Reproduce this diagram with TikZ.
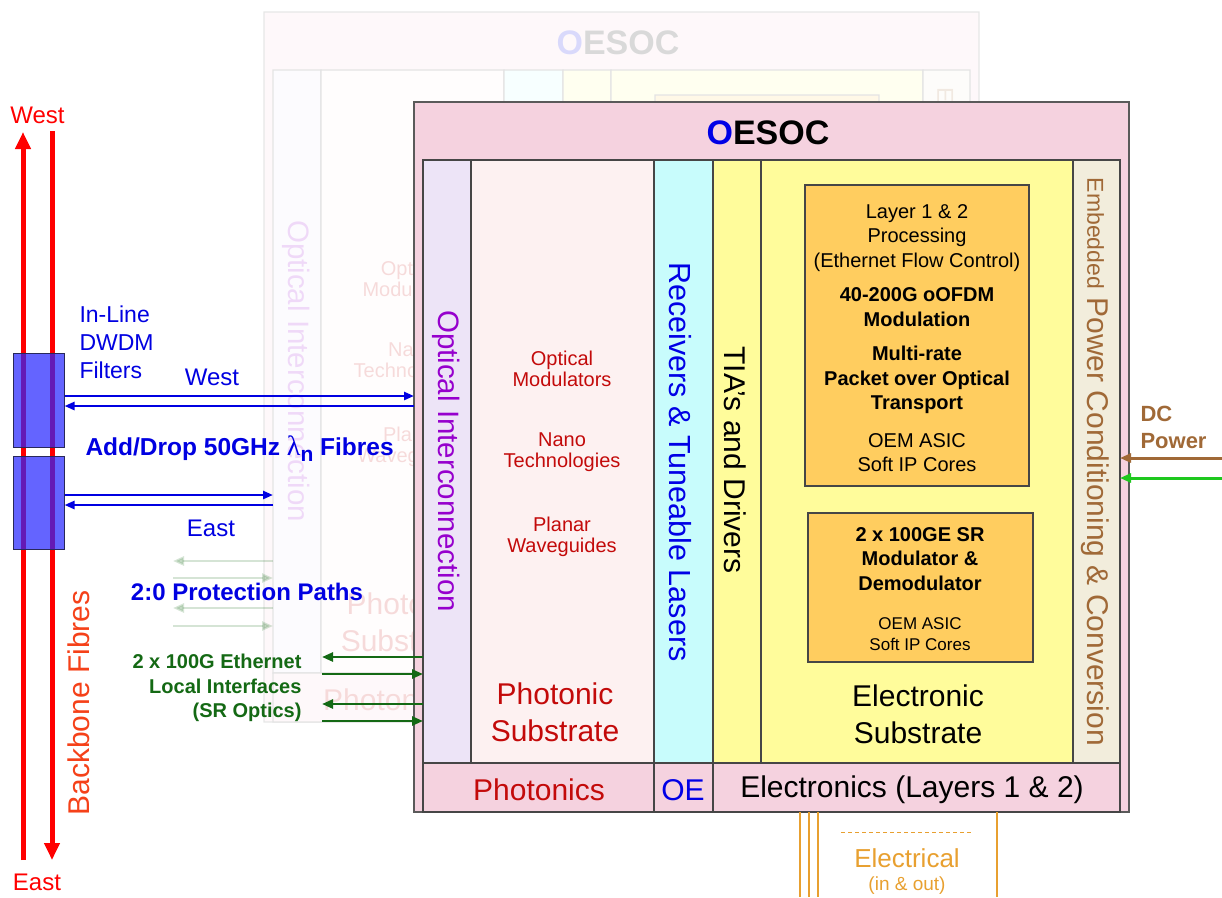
\documentclass[tikz,border=0pt]{standalone}
\usepackage{fontspec}
\setmainfont{Liberation Sans}
\newfontfamily\lambdafont{Liberation Serif}
\usetikzlibrary{arrows.meta}

\definecolor{cardpink}{RGB}{245,210,223}
\definecolor{lavfill}{RGB}{237,228,247}
\definecolor{photfill}{RGB}{253,241,241}
\definecolor{cyanfill}{RGB}{200,252,252}
\definecolor{yelfill}{RGB}{255,252,155}
\definecolor{beigefill}{RGB}{242,237,220}
\definecolor{asicfill}{RGB}{255,205,95}
\definecolor{panelline}{RGB}{70,70,70}
\definecolor{oblue}{RGB}{0,0,230}
\definecolor{dred}{RGB}{195,10,10}
\definecolor{purp}{RGB}{150,0,205}
\definecolor{brownish}{RGB}{160,105,55}
\definecolor{fibrered}{RGB}{255,0,0}
\definecolor{bbred}{RGB}{245,65,25}
\definecolor{linkblue}{RGB}{0,0,225}
\definecolor{ethgreen}{RGB}{20,105,20}
\definecolor{dcgreen}{RGB}{30,200,30}
\definecolor{filterblue}{RGB}{37,37,255}
\definecolor{wireorange}{RGB}{232,160,48}

\newcommand\fsz[2]{\fontsize{#1pt}{#2pt}\selectfont}

\tikzset{every picture/.style={line width=1pt},
  panel/.style={draw=panelline, line width=1.2pt, inner sep=0pt, outer sep=0pt},
  asicbox/.style={panel, fill=asicfill},
  fibre/.style={draw=fibrered, line width=5pt, -{Triangle[length=17pt,width=15pt]}},
  bluelink/.style={draw=linkblue, line width=2.5pt, -{Triangle[length=10pt,width=8pt]}},
  ethlink/.style={draw=ethgreen, line width=2.5pt, -{Triangle[length=11pt,width=9pt]}},
  dclink/.style={line width=3pt, -{Triangle[length=11pt,width=9pt]}},
  wire/.style={draw=wireorange, line width=2pt},
  filterbox/.style={draw={rgb,255:red,40;green,40;blue,90}, line width=1pt, fill=filterblue, fill opacity=0.71, inner sep=0pt},
}

% the OESOC card, drawn once faded behind and once in front
\newcommand\oesoccard{%
%Shape: Rectangle [card]
\node[panel, draw={rgb,255:red,90;green,90;blue,90}, fill=cardpink, minimum width=715, minimum height=710] (card) at (771.5,457) {};
% Text Node
\node[font=\fsz{34}{40}\bfseries] (title) at (768,133) {\textcolor{oblue}{O}ESOC};
%Shape: Rectangle [columns]
\node[panel, fill=lavfill, minimum width=48, minimum height=603] (optcol) at (447,461.5) {};
\node[panel, fill=photfill, minimum width=183, minimum height=603] (photcol) at (562.5,461.5) {};
\node[panel, fill=cyanfill, minimum width=59, minimum height=603] (rxcol) at (683.5,461.5) {};
\node[panel, fill=yelfill, minimum width=48, minimum height=603] (tiacol) at (737,461.5) {};
\node[panel, fill=yelfill, minimum width=312, minimum height=603] (elcol) at (917,461.5) {};
\node[panel, fill=beigefill, minimum width=47, minimum height=603] (pwrcol) at (1096.5,461.5) {};
%Shape: Rectangle [bottom band]
\node[panel, fill=cardpink, minimum width=231, minimum height=49] (phband) at (538.5,787.5) {};
\node[panel, fill=cardpink, minimum width=59, minimum height=49] (oeband) at (683.5,787.5) {};
\node[panel, fill=cardpink, minimum width=407, minimum height=49] (elband) at (916.5,787.5) {};
%Shape: Rectangle [ASIC blocks]
\node[asicbox, minimum width=224, minimum height=301] (asicA) at (917,335.5) {};
\node[asicbox, minimum width=225, minimum height=149] (asicB) at (920.5,587.5) {};
% Text Node
\node[rotate=-90, text=purp, font=\fsz{29.5}{34}] (optlbl) at (446,461) {Optical Interconnection};
\node[rotate=-90, text=oblue, font=\fsz{30.5}{34}] (rxlbl) at (680,462) {Receivers \& Tuneable Lasers};
\node[rotate=-90, font=\fsz{30}{34}] (tialbl) at (735,460) {TIA's and Drivers};
\node[rotate=-90, text=brownish, font=\fsz{30}{34}] (pwrlbl) at (1095,462) {{\fsz{23}{26}Embedded} Power Conditioning \& Conversion};
% Text Node
\node[text=dred, align=center, font=\fsz{20}{21.5}] (modlbl) at (562,369) {Optical\\Modulators};
\node[text=dred, align=center, font=\fsz{20}{21.5}] (nanolbl) at (562,452) {Nano\\Technologies};
\node[text=dred, align=center, font=\fsz{20}{21.5}] (wglbl) at (562,537) {Planar\\Waveguides};
\node[text=dred, align=center, font=\fsz{30}{37}] (phsub) at (555,712) {Photonic\\Substrate};
% Text Node
\node[align=center, font=\fsz{20}{24.5}] (asicAlbl) at (917,338) {Layer 1 \& 2\\Processing\\(Ethernet Flow Control)\\[10pt]\textbf{40-200G oOFDM}\\\textbf{Modulation}\\[10pt]\textbf{Multi-rate}\\\textbf{Packet over Optical}\\\textbf{Transport}\\[13pt]OEM ASIC\\Soft IP Cores};
\node[align=center, font=\fsz{20}{24.5}\bfseries] (asicBlbl) at (920,559) {2 x 100GE SR\\Modulator \&\\Demodulator};
\node[align=center, font=\fsz{17}{21}] (asicBsub) at (920,634) {OEM ASIC\\Soft IP Cores};
\node[align=center, font=\fsz{30}{37}] (elsub) at (918,714) {Electronic\\Substrate};
% Text Node
\node[text=dred, font=\fsz{30}{34}] (phbandlbl) at (539,790) {Photonics};
\node[text=oblue, font=\fsz{30}{34}] (oebandlbl) at (683,790) {OE};
\node[font=\fsz{30}{34}] (elbandlbl) at (912,790) {Electronics (Layers 1 \& 2)};
}

\begin{document}
\begin{tikzpicture}[x=1pt,y=1pt,yscale=-1,xscale=1]
\useasboundingbox (0,0) rectangle (1222,897);

% faded card behind, only where the front card leaves it visible
\begin{scope}
\clip (0,0) -- (1222,0) -- (1222,102) -- (414,102) -- (414,897) -- (0,897) -- cycle;
\begin{scope}[shift={(-150,-90)}, transparency group, opacity=0.15, name prefix=back-]
\oesoccard
\end{scope}
\end{scope}

% front card
\oesoccard

%Shape: Lines [backbone fibres]
\coordinate (fWbot) at (23,860);
\coordinate (fWtop) at (23,132);
\coordinate (fEtop) at (52,131);
\coordinate (fEbot) at (52,860);
\draw[fibre] (fWbot) -- (fWtop);
\draw[fibre] (fEtop) -- (fEbot);

%Shape: Rectangle [DWDM filters]
\node[filterbox, minimum width=51, minimum height=94] (filterW) at (38.5,400) {};
\node[filterbox, minimum width=51, minimum height=93] (filterE) at (38.5,502.5) {};

%Shape: Arrows [add/drop fibres]
\coordinate (wy1) at (0,396);
\coordinate (wy2) at (0,406);
\coordinate (ey1) at (0,495);
\coordinate (ey2) at (0,505);
\draw[bluelink] (filterW.east |- wy1) -- (card.west |- wy1);
\draw[bluelink] (card.west |- wy2) -- (filterW.east |- wy2);
\draw[bluelink] (filterE.east |- ey1) -- (back-optcol.west |- ey1);
\draw[bluelink] (back-optcol.west |- ey2) -- (filterE.east |- ey2);

%Shape: Arrows [protection paths, faded]
\coordinate (prA) at (173,561);
\coordinate (prB) at (173,578);
\coordinate (prC) at (173,608);
\coordinate (prD) at (173,626);
\draw[ethlink, opacity=0.18] (back-optcol.west |- prA) -- (prA);
\draw[ethlink, opacity=0.18] (prB) -- (back-optcol.west |- prB);
\draw[ethlink, opacity=0.18] (back-optcol.west |- prC) -- (prC);
\draw[ethlink, opacity=0.18] (prD) -- (back-optcol.west |- prD);

%Shape: Arrows [ethernet]
\coordinate (ethA) at (322,657);
\coordinate (ethB) at (322,674);
\coordinate (ethC) at (322,704);
\coordinate (ethD) at (322,721);
\draw[ethlink] (optcol.west |- ethA) -- (ethA);
\draw[ethlink] (ethB) -- (optcol.west |- ethB);
\draw[ethlink] (optcol.west |- ethC) -- (ethC);
\draw[ethlink] (ethD) -- (optcol.west |- ethD);

%Shape: Arrows [DC power]
\coordinate (dcA) at (1222,458);
\coordinate (dcB) at (1222,478);
\draw[dclink, draw=brownish] (dcA) -- (pwrcol.east |- dcA);
\draw[dclink, draw=dcgreen] (dcB) -- (pwrcol.east |- dcB);

%Shape: Lines [electrical]
\foreach \wx/\wn in {800/wA, 809/wB, 818/wC, 997/wD}{
  \coordinate (\wn) at (\wx,897);
  \draw[wire] (card.south -| \wn) -- (\wn);
}
\coordinate (dashL) at (841,832);
\coordinate (dashR) at (973,832);
\draw[draw=wireorange, dash pattern=on 4pt off 3pt] (dashL) -- (dashR);

% Text Node
\node[text=fibrered, font=\fsz{24}{28}] (westlbl) at (37.5,115) {West};
\node[text=fibrered, font=\fsz{24}{28}] (eastlbl) at (37,882) {East};
\node[rotate=90, text=bbred, font=\fsz{30}{34}] (bblbl) at (79,703) {Backbone Fibres};
% Text Node
\node[anchor=west, align=left, inner sep=0pt, text=linkblue, font=\fsz{23}{28}] (dwdmlbl) at (79,342) {In-Line\\DWDM\\Filters};
\node[text=linkblue, font=\fsz{24}{28}] (westlink) at (212,377) {West};
\node[anchor=west, inner sep=0pt, text=linkblue, font=\fsz{24.5}{28}\bfseries] (adddrop) at (85,449) {Add/Drop 50GHz {\lambdafont\mdseries\fsz{28}{28}λ}\raisebox{-6pt}{\fsz{21}{22}n}\ Fibres};
\node[text=linkblue, font=\fsz{24}{28}] (eastlink) at (211,528) {East};
\node[text=linkblue, font=\fsz{24}{28}\bfseries] (protlbl) at (247,592) {2:0 Protection Paths};
\node[anchor=east, align=right, inner sep=0pt, text=ethgreen, font=\fsz{20}{24.5}\bfseries] (ethlbl) at (302,688) {2 x 100G Ethernet\\Local Interfaces\\(SR Optics)};
% Text Node
\node[anchor=west, align=left, inner sep=0pt, text=brownish, font=\fsz{22}{27}\bfseries] (dclbl) at (1140,427) {DC\\Power};
\node[text=wireorange, font=\fsz{26}{28}] (eleclbl) at (907,858) {Electrical};
\node[text=wireorange, font=\fsz{19}{20}] (inoutlbl) at (907,886) {(in \& out)};

\end{tikzpicture}
\end{document}
